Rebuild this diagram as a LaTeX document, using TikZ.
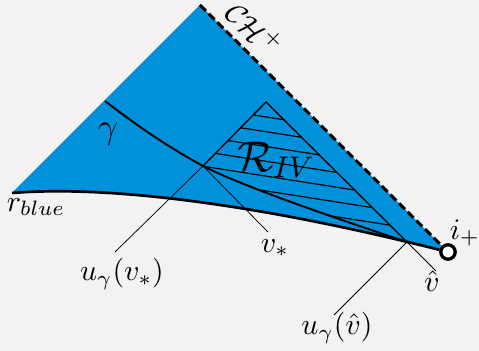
\documentclass[tikz,border=0pt]{standalone}
\usepackage{xcolor}
\usepackage{tikz}
\definecolor{regionblue}{RGB}{0,145,218}
\definecolor{paper}{RGB}{242,242,242}

\begin{document}
\begin{tikzpicture}[x=0.0118cm, y=-0.0118cm,
        pointer/.style={line width=0.25pt},
        edgeline/.style={line width=0.45pt},
        hatchline/.style={line width=0.4pt}]
        \fill[paper] (0,0) rectangle (479,351);
        \useasboundingbox (0,0) rectangle (479,351);

        \coordinate (rb)   at (12,193);
        \coordinate (top)  at (200,5);
        \coordinate (g0)   at (105,101);
        \coordinate (vs)   at (203,166);
        \coordinate (apex) at (266,102);
        \coordinate (vh)   at (407,242);
        \coordinate (uvsend) at (115,252);
        \coordinate (vsend)  at (268,232);
        \coordinate (uvhend) at (334,315);
        \coordinate (vhend)  at (436,271);

        \fill[regionblue] (rb) -- (top) -- (448,252) .. controls (262,205) and (110,185) .. (rb);

        % hatching of R_IV
        \begin{scope}
            \clip (vs) -- (apex) -- (vh) .. controls (320,213) and (240,185) .. (vs) -- cycle;
            \foreach \k in {-5,...,4}
                \draw[hatchline] (190,{164.2+14.8*\k}) -- ++(230,36.1);
        \end{scope}

        \draw[edgeline] (vs) -- (apex) -- (vh);
        \draw[line width=0.65pt] (g0) .. controls (140,128) and (170,148) .. (vs)
             .. controls (240,185) and (320,213) .. (vh);

        \node[circle, draw, line width=1.1pt, fill=white, inner sep=0pt, minimum size=0.17cm] (ip) at (448,252) {};
        \draw[line width=0.9pt] (rb) .. controls (110,185) and (262,205) .. (ip);
        \draw[line width=1pt, dash pattern=on 2.8pt off 1.3pt] (top) -- (ip);

        \draw[pointer] (vs) -- (uvsend)
                       (vs) -- (vsend)
                       (vh) -- (uvhend)
                       (vh) -- (vhend);

        \node[rotate=-45, inner sep=0.5pt] (chl) at (255,28) {$\mathcal{CH}^+$};
        \node (ipl)  at (465,233) {$i_+$};
        \node (vhl)  at (432,281) {$\hat{v}$};
        \node (uvhl) at (337,328) {$u_\gamma(\hat{v})$};
        \node (vsl)  at (275,248) {$v_*$};
        \node (uvsl) at (122,274) {$u_\gamma(v_*)$};
        \node (rbl)  at (36,207)  {$r_{blue}$};
        \node (gl)   at (108,134) {\large$\gamma$};
        \node (ril)  at (276,160) {\Large$\mathcal{R}_{IV}$};
\end{tikzpicture}
\end{document}
